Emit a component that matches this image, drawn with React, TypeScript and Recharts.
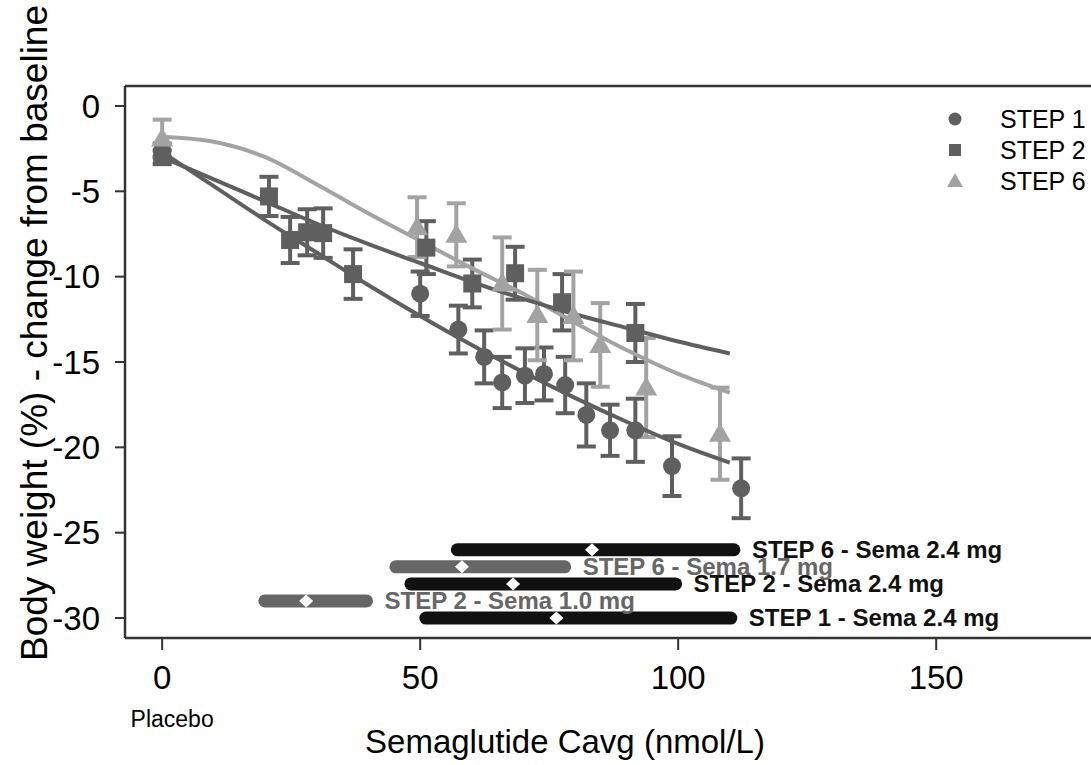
import { ComposedChart, XAxis, YAxis, Scatter, Line, ErrorBar, Legend } from "recharts";

const FONT = '"Liberation Sans", Arial, Helvetica, sans-serif';
const DARK = "#5f5f5f";
const LIGHT = "#a3a3a3";
const AXIS = "#333333";

// axes
const xTicks = [0, 50, 100, 150];
const yTicks = [0, -5, -10, -15, -20, -25, -30];
const xTitle = "Semaglutide Cavg (nmol/L)";
const yTitle = "Body weight (%) - change from baseline";

// observed means (+/- error) per exposure bin
const step1X = [0, 50, 57.4, 62.4, 65.9, 70.3, 74.0, 78.1, 82.2, 86.8, 91.7, 98.8, 112.2];
const step1Y = [-2.6, -11.0, -13.1, -14.7, -16.2, -15.8, -15.7, -16.35, -18.1, -19.0, -19.0, -21.1, -22.4];
const step1Err = [0.4, 1.3, 1.4, 1.55, 1.5, 1.6, 1.55, 1.65, 1.85, 1.5, 1.85, 1.75, 1.75];

const step2X = [0, 20.7, 24.8, 28.1, 31.2, 37.0, 51.2, 60.1, 68.4, 77.5, 91.7];
const step2Y = [-3.0, -5.3, -7.85, -7.4, -7.45, -9.85, -8.3, -10.4, -9.8, -11.5, -13.3];
const step2Err = [0.4, 1.15, 1.35, 1.35, 1.45, 1.45, 1.55, 1.4, 1.55, 1.65, 1.7];

const step6X = [0, 49.4, 57.0, 65.9, 72.7, 79.7, 84.9, 93.8, 108.1];
const step6Y = [-1.9, -7.1, -7.55, -10.4, -12.25, -12.3, -14.0, -16.5, -19.2];
const step6Err = [1.1, 1.75, 1.85, 2.7, 2.65, 2.6, 2.45, 2.9, 2.7];

// model fits
const curveX = [0, 10, 20, 30, 40, 50, 60, 70, 80, 90, 100, 110];
const step1Fit = [-2.7, -4.7, -6.7, -8.6, -10.5, -12.3, -14.0, -15.6, -17.1, -18.5, -19.8, -20.9];
const step2Fit = [-3.0, -4.3, -5.6, -6.9, -8.1, -9.2, -10.3, -11.3, -12.2, -13.0, -13.8, -14.5];
const step6Fit = [-1.8, -2.1, -3.0, -4.6, -6.3, -7.9, -9.5, -11.0, -12.7, -14.3, -15.7, -16.8];

// exposure ranges by trial / dose
const rangeLabels = [
  "STEP 6 - Sema 2.4 mg",
  "STEP 6 - Sema 1.7 mg",
  "STEP 2 - Sema 2.4 mg",
  "STEP 2 - Sema 1.0 mg",
  "STEP 1 - Sema 2.4 mg",
];
const rangeDose = [2.4, 1.7, 2.4, 1.0, 2.4];
const rangeLevel = [-26, -27, -28, -29, -30];
const rangeLow = [57.2, 45.3, 48.2, 19.9, 51.1];
const rangeHigh = [110.8, 78.0, 99.5, 39.6, 110.2];
const rangeMedian = [83.3, 58.1, 68.0, 27.9, 76.4];

const legendNames = ["STEP 1", "STEP 2", "STEP 6"];

const pts = (xs: number[], ys: number[], es: number[]) =>
  xs.map((x, i) => ({ x, y: ys[i], err: es[i] }));
const fit = (ys: number[]) => curveX.map((x, i) => ({ x, y: ys[i] }));

const step1Data = pts(step1X, step1Y, step1Err);
const step2Data = pts(step2X, step2Y, step2Err);
const step6Data = pts(step6X, step6Y, step6Err);

const rangeColor = (d: number) => (d === 2.4 ? "#111111" : "#666666");
const medianData = rangeMedian.map((x, i) => ({ x, y: rangeLevel[i] }));
const labelData = rangeHigh.map((x, i) => ({ x, y: rangeLevel[i], label: rangeLabels[i], dose: rangeDose[i] }));

const CircleShape = (p: any) => <circle cx={p.cx} cy={p.cy} r={9} fill={DARK} />;
const SquareShape = (p: any) => <rect x={p.cx - 9} y={p.cy - 9} width={18} height={18} fill={DARK} />;
const TriangleShape = (p: any) => (
  <path d={`M${p.cx},${p.cy - 11} L${p.cx + 11},${p.cy + 8} L${p.cx - 11},${p.cy + 8} Z`} fill={LIGHT} />
);
const DiamondShape = (p: any) => (
  <path d={`M${p.cx},${p.cy - 6.5} L${p.cx + 7},${p.cy} L${p.cx},${p.cy + 6.5} L${p.cx - 7},${p.cy} Z`} fill="#ffffff" />
);
const RangeLabel = (p: any) => (
  <text
    x={p.cx + 18}
    y={p.cy + 8}
    fontSize={24}
    fontWeight="bold"
    fill={rangeColor(p.payload.dose)}
    fontFamily={FONT}
  >
    {p.payload.label}
  </text>
);

const XTick = (p: any) => (
  <g>
    <text x={p.x} y={p.y} dy={23} textAnchor="middle" fontSize={33} fill="#000" fontFamily={FONT}>
      {p.payload.value}
    </text>
    {p.payload.value === 0 && (
      <text x={p.x + 10} y={p.y + 61} textAnchor="middle" fontSize={23} fill="#000" fontFamily={FONT}>
        Placebo
      </text>
    )}
  </g>
);

const LegendBox = () => (
  <svg width={150} height={92}>
    {legendNames.map((name, i) => {
      const cy = 15 + i * 31;
      return (
        <g key={name}>
          {i === 0 && <circle cx={15} cy={cy} r={6.5} fill={DARK} />}
          {i === 1 && <rect x={9} y={cy - 6} width={12} height={12} fill={DARK} />}
          {i === 2 && <path d={`M15,${cy - 8} L23,${cy + 6} L7,${cy + 6} Z`} fill={LIGHT} />}
          <text x={60} y={cy + 9} fontSize={25} fill="#000" fontFamily={FONT}>
            {name}
          </text>
        </g>
      );
    })}
  </svg>
);

export default function App() {
  return (
    <div
      style={{
        position: "absolute",
        left: 0,
        top: 0,
        width: 1091,
        height: 765,
        overflow: "hidden",
        background: "#fff",
        fontFamily: FONT,
      }}
    >
      <ComposedChart width={1091} height={765} margin={{ top: 85, right: 0, left: 0, bottom: 0 }}>
        <XAxis
          xAxisId="top"
          orientation="top"
          type="number"
          domain={[-7.2, 180]}
          allowDataOverflow
          height={1}
          tick={false}
          tickLine={false}
          axisLine={{ stroke: AXIS, strokeWidth: 2.5 }}
        />
        <XAxis
          dataKey="x"
          type="number"
          domain={[-7.2, 180]}
          allowDataOverflow
          ticks={xTicks}
          height={127}
          tickSize={12}
          tickMargin={16}
          tick={<XTick />}
          axisLine={{ stroke: AXIS, strokeWidth: 2.5 }}
          tickLine={{ stroke: AXIS, strokeWidth: 2 }}
          label={(p: any) => (
            <text x={565} y={753} textAnchor="middle" fontSize={33} fill="#000" fontFamily={FONT}>
              {xTitle}
            </text>
          )}
        />
        <YAxis
          dataKey="y"
          type="number"
          domain={[-31.17, 1.17]}
          allowDataOverflow
          ticks={yTicks}
          width={125}
          tickSize={10}
          tickMargin={15}
          tick={{ fill: "#000", fontSize: 33, fontFamily: FONT }}
          axisLine={{ stroke: AXIS, strokeWidth: 2.5 }}
          tickLine={{ stroke: AXIS, strokeWidth: 2 }}
          label={(p: any) => (
            <text
              transform="translate(47, 333) rotate(-90)"
              textAnchor="middle"
              fontSize={37}
              fill="#000"
              fontFamily={FONT}
            >
              {yTitle}
            </text>
          )}
        />

        {/* exposure ranges */}
        {rangeLabels.map((name, i) => (
          <Line
            key={name}
            data={[
              { x: rangeLow[i], y: rangeLevel[i] },
              { x: rangeHigh[i], y: rangeLevel[i] },
            ]}
            dataKey="y"
            stroke={rangeColor(rangeDose[i])}
            strokeWidth={13}
            strokeLinecap="round"
            dot={false}
            activeDot={false}
            legendType="none"
            isAnimationActive={false}
          />
        ))}
        <Scatter data={medianData} shape={<DiamondShape />} legendType="none" isAnimationActive={false} />
        <Scatter data={labelData} shape={<RangeLabel />} legendType="none" isAnimationActive={false} />

        {/* observed data */}
        <Scatter name="STEP 1" data={step1Data} shape={<CircleShape />} isAnimationActive={false}>
          <ErrorBar dataKey="err" direction="y" width={9.5} strokeWidth={4} stroke={DARK} />
        </Scatter>
        <Scatter name="STEP 2" data={step2Data} shape={<SquareShape />} isAnimationActive={false}>
          <ErrorBar dataKey="err" direction="y" width={9.5} strokeWidth={4} stroke={DARK} />
        </Scatter>
        <Scatter name="STEP 6" data={step6Data} shape={<TriangleShape />} isAnimationActive={false}>
          <ErrorBar dataKey="err" direction="y" width={9.5} strokeWidth={4} stroke={LIGHT} />
        </Scatter>

        {/* model fits */}
        <Line data={fit(step6Fit)} dataKey="y" type="monotone" stroke={LIGHT} strokeWidth={4} dot={false} activeDot={false} legendType="none" isAnimationActive={false} />
        <Line data={fit(step2Fit)} dataKey="y" type="monotone" stroke={DARK} strokeWidth={4} dot={false} activeDot={false} legendType="none" isAnimationActive={false} />
        <Line data={fit(step1Fit)} dataKey="y" type="monotone" stroke={DARK} strokeWidth={4} dot={false} activeDot={false} legendType="none" isAnimationActive={false} />

        <Legend
          layout="vertical"
          align="center"
          verticalAlign="middle"
          content={<LegendBox />}
          wrapperStyle={{ left: 940, top: 104, width: 150, height: 92 }}
        />
      </ComposedChart>
    </div>
  );
}
